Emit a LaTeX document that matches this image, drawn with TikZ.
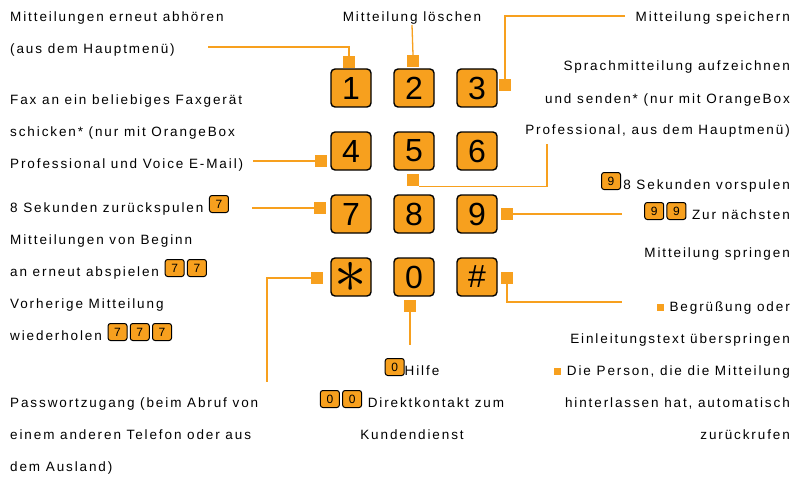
\documentclass[tikz,border=0pt]{standalone}
\usepackage{fontspec}
\usepackage{graphicx}
\setmainfont{Liberation Sans}[LetterSpace=14]
\newfontfamily\keyfont{Liberation Sans}
\definecolor{kporange}{RGB}{247,160,30}

\tikzset{
	keycap/.style={draw=black,line width=1.4pt,fill=kporange,rounded corners=4pt,
		minimum width=40pt,minimum height=38pt,inner sep=0pt,
		font=\keyfont\fontsize{32}{32}\selectfont},
	keymini/.style={draw=black,line width=1pt,fill=kporange,rounded corners=2.5pt,
		minimum width=19pt,minimum height=17pt,inner sep=0pt,anchor=center,
		font=\keyfont\fontsize{12}{12}\selectfont},
	keytab/.style={fill=kporange,minimum size=12pt,inner sep=0pt},
	wire/.style={draw=kporange,line width=1.3pt},
	lbl/.style={inner sep=0pt,font=\fontsize{13.5}{32}\selectfont}
}
\newcommand{\kp}[1]{\tikz[baseline={([yshift=1pt]mk.south)}]\node[keymini] (mk) {#1};}
\newcommand{\bul}{\textcolor{kporange}{\rule{7pt}{7pt}}}

\begin{document}
\begin{tikzpicture}[x=1pt,y=-1pt]
	\useasboundingbox (0,0) rectangle (794,476);

	% keypad
	\node[keycap] (k1) at (351,88) {1};
	\node[keycap] (k2) at (414,88) {2};
	\node[keycap] (k3) at (477,88) {3};
	\node[keycap] (k4) at (351,151) {4};
	\node[keycap] (k5) at (414,151) {5};
	\node[keycap] (k6) at (477,151) {6};
	\node[keycap] (k7) at (351,214) {7};
	\node[keycap] (k8) at (414,214) {8};
	\node[keycap] (k9) at (477,214) {9};
	\node[keycap] (kS) at (351,277) {\scalebox{2.6}{$\ast$}};
	\node[keycap] (k0) at (414,277) {0};
	\node[keycap] (kH) at (477,277) {\#};

	% tabs on the keys
	\node[keytab] (s1) at (349,62) {};
	\node[keytab] (s2) at (413,61) {};
	\node[keytab] (s3) at (505,85) {};
	\node[keytab] (s4) at (321,161) {};
	\node[keytab] (s5) at (413,180) {};
	\node[keytab] (s7) at (320,208) {};
	\node[keytab] (s9) at (507,214) {};
	\node[keytab] (sS) at (317,278) {};
	\node[keytab] (s0) at (410,306) {};
	\node[keytab] (sH) at (507,278) {};

	% left labels (placed at the baseline of their last line)
	\node[lbl,anchor=base west,align=left] (t1) at (10,54)
		{Mitteilungen erneut abhören\\(aus dem Hauptmenü)};
	\node[lbl,anchor=base west,align=left] (t4) at (10,168)
		{Fax an ein beliebiges Faxgerät\\schicken* (nur mit OrangeBox\\Professional und Voice E-Mail)};
	\node[lbl,anchor=base west,align=left] (t7) at (10,340)
		{8 Sekunden zurückspulen \kp{7}\\Mitteilungen von Beginn\\an erneut abspielen \kp{7}\,\kp{7}\\Vorherige Mitteilung\\wiederholen \kp{7}\,\kp{7}\,\kp{7}};
	\node[lbl,anchor=base west,align=left] (tS) at (10,471)
		{Passwortzugang (beim Abruf von\\einem anderen Telefon oder aus\\dem Ausland)};

	% middle labels
	\node[lbl,anchor=base] (t2) at (412,22) {Mitteilung löschen};
	\node[lbl,anchor=base,align=center] (t0) at (412,439)
		{\kp{0}Hilfe\\\kp{0}\,\kp{0} Direktkontakt zum\\Kundendienst};

	% right labels
	\node[lbl,anchor=base east] (t3) at (790,22) {Mitteilung speichern};
	\node[lbl,anchor=base east,align=right] (t5) at (790,135)
		{Sprachmitteilung aufzeichnen\\und senden* (nur mit OrangeBox\\Professional, aus dem Hauptmenü)};
	\node[lbl,anchor=base east] (t9a) at (790,189) {\kp{9}\,8 Sekunden vorspulen};
	\node[lbl,anchor=base east,align=right] (t9b) at (790,257)
		{\kp{9}\,\kp{9} Zur nächsten\\[6pt]Mitteilung springen};
	\node[lbl,anchor=base east,align=right] (tHa) at (790,343)
		{\bul\ Begrüßung oder\\Einleitungstext überspringen};
	\node[lbl,anchor=base east,align=right] (tHb) at (790,439)
		{\bul\ Die Person, die die Mitteilung\\hinterlassen hat, automatisch\\zurückrufen};

	% connectors
	\coordinate (c1) at (208,47);
	\coordinate (c3) at (625,16);
	\coordinate (c4) at (253,161);
	\coordinate (c5) at (547,144);
	\coordinate (c7) at (252,208);
	\coordinate (c9) at (622,214);
	\coordinate (cS) at (267,382);
	\coordinate (c0) at (410,345);
	\coordinate (cH) at (622,302);

	\draw[wire] (c1) -| (s1.north);
	\draw[wire] (t2.south) -- (s2.north);
	\draw[wire] (c3) -| (s3.north);
	\draw[wire] (c4) -- (s4.west);
	\draw[wire] (c5) |- (s5.south east);
	\draw[wire] (c7) -- (s7.west);
	\draw[wire] (s9.east) -- (c9);
	\draw[wire] (sS.west) -| (cS);
	\draw[wire] (s0.south) -- (c0);
	\draw[wire] (sH.south) |- (cH);

\end{tikzpicture}
\end{document}
